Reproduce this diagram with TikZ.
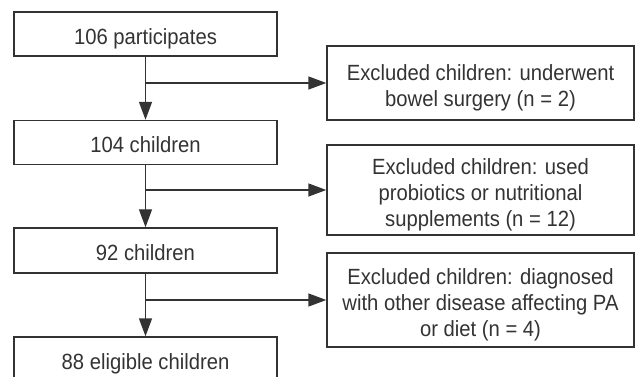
\documentclass[tikz,border=0pt]{standalone}
\usepackage{fontspec}
\setmainfont{Liberation Sans}
\newfontfamily\flowfont[FakeStretch=0.92]{Liberation Sans}
\usetikzlibrary{arrows.meta}

\definecolor{flowgray}{HTML}{333333}

% fixed first-line height/depth, so every label sits the same way in its box
\newcommand{\droptext}{\rule[-4.6pt]{0pt}{30pt}}

\tikzset{
  stagebox/.style={draw=flowgray, line width=1.4pt, text=flowgray, minimum width=263pt, minimum height=44pt, inner sep=0pt},
  exclbox/.style={draw=flowgray, line width=1.4pt, text=flowgray, minimum width=307pt, align=center, inner sep=0pt},
  flow/.style={draw=flowgray, line width=1.4pt, -{Triangle[length=18pt,width=13pt]}}
}

\begin{document}
\begin{tikzpicture}[x=1pt, y=-1pt, font=\flowfont\fontsize{22}{26}\selectfont]

\useasboundingbox (0,0) rectangle (635,377);

% Stages
\node[stagebox] (p106) at (145.5,34) {\droptext 106 participates};
\node[stagebox] (c104) at (145.5,142.5) {\droptext 104 children};
\node[stagebox, minimum height=45pt] (c92) at (145.5,250.5) {\droptext 92 children};
\node[stagebox] (c88) at (145.5,359) {\droptext 88 eligible children};

% Exclusions
\node[exclbox, minimum height=74pt] (ex1) at (480.5,83) {\droptext Excluded children: underwent\\bowel surgery (n = 2)};
\node[exclbox, minimum height=90pt] (ex2) at (480.5,190) {\droptext Excluded children: used\\probiotics or nutritional\\supplements (n = 12)};
\node[exclbox, minimum height=94pt] (ex3) at (480.5,300) {\droptext Excluded children: diagnosed\\with other disease affecting PA\\or diet (n = 4)};

% Branch points
\coordinate (b1) at (p106.south |- ex1.west);
\coordinate (b2) at (c104.south |- ex2.west);
\coordinate (b3) at (c92.south |- ex3.west);

% Arrows
\draw[flow] (p106) -- (c104);
\draw[flow] (c104) -- (c92);
\draw[flow] (c92) -- (c88);

\draw[flow] (b1) -- (ex1.west);
\draw[flow] (b2) -- (ex2.west);
\draw[flow] (b3) -- (ex3.west);

\end{tikzpicture}
\end{document}
